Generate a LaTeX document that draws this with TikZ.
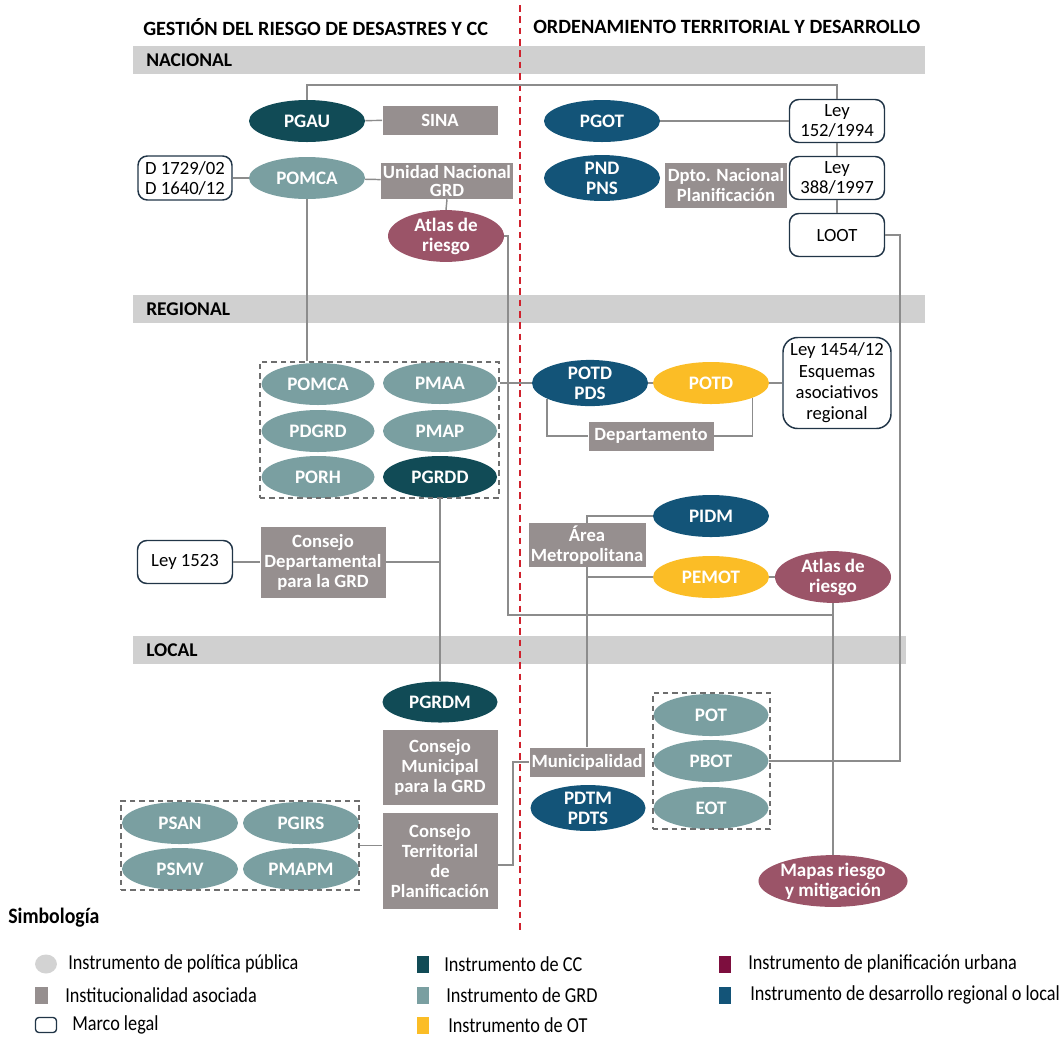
\documentclass[tikz,border=0pt]{standalone}
\usepackage{fontspec}
\setmainfont{Carlito}
\newfontfamily\legfont[FakeStretch=0.855]{Carlito}
\newfontfamily\legboldfont[FakeStretch=0.9]{Carlito}
\usetikzlibrary{shapes.geometric}
\definecolor{ccteal}{HTML}{114B56}
\definecolor{grdteal}{HTML}{7A9FA1}
\definecolor{devblue}{HTML}{135478}
\definecolor{otyellow}{HTML}{FBBD26}
\definecolor{urbrose}{HTML}{9B5468}
\definecolor{urbleg}{HTML}{7D0E3E}
\definecolor{instgray}{HTML}{968F8F}
\definecolor{bandgray}{HTML}{D0D0D0}
\definecolor{legalline}{HTML}{213547}
\definecolor{linegray}{HTML}{8C8C8C}
\definecolor{divred}{HTML}{D0212D}
\definecolor{boxdash}{HTML}{6E6E6E}
\definecolor{dotgray}{HTML}{D3D3D3}
\def\PX{0.75pt}
\tikzset{
  base/.style={font=\fontsize{14}{15}\selectfont, inner sep=0pt, align=center},
  instr/.style={base, ellipse, font=\bfseries\fontsize{14.3}{15}\selectfont, text=white,
    minimum width=116*\PX, minimum height=42*\PX},
  cc/.style={instr, fill=ccteal},
  grd/.style={instr, fill=grdteal},
  dev/.style={instr, fill=devblue},
  ot/.style={instr, fill=otyellow},
  urb/.style={instr, fill=urbrose},
  inst/.style={base, rectangle, fill=instgray, text=white, font=\bfseries\fontsize{14}{15}\selectfont},
  legal/.style={base, rectangle, draw=legalline, line width=1.1pt, rounded corners=7pt, fill=white,
    text=black},
  grp/.style={rectangle, draw=boxdash, line width=1.6pt, dash pattern=on 4pt off 3pt, inner sep=0pt},
  band/.style={rectangle, fill=bandgray, anchor=north west, inner sep=0pt, minimum height=28*\PX},
  head/.style={anchor=west, inner sep=0pt, font=\bfseries\fontsize{15.2}{16}\selectfont},
  level/.style={anchor=west, inner sep=0pt, font=\bfseries\fontsize{14.6}{15}\selectfont},
  conn/.style={draw=linegray, line width=1.1pt},
  divider/.style={draw=divred, line width=1.8pt, dash pattern=on 5pt off 3.5pt},
  legtxt/.style={anchor=west, inner sep=0pt, font=\legfont\fontsize{16}{17}\selectfont},
  legsq/.style={rectangle, inner sep=0pt, minimum width=12*\PX, minimum height=17*\PX},
}
\begin{document}
\begin{tikzpicture}[x=0.75pt, y=-0.75pt]
\useasboundingbox (0,0) rectangle (1063,1036);

% column headings and the divider between both columns
\node[head] (hleft) at (143,27) {GESTIÓN DEL RIESGO DE DESASTRES Y CC};
\node[head] (hright) at (533,27) {ORDENAMIENTO TERRITORIAL Y DESARROLLO};

% level bands
\node[band, minimum width=792*\PX] (bandN) at (133,46) {};
\node[level] (lvlN) at (146,60) {NACIONAL};
\node[band, minimum width=792*\PX] (bandR) at (133,295) {};
\node[level] (lvlR) at (146,309) {REGIONAL};
\node[band, minimum width=773*\PX] (bandL) at (133,636) {};
\node[level] (lvlL) at (146,650) {LOCAL};

\coordinate (divtop) at (520,5);
\coordinate (divbot) at (520,930);
\draw[divider] (divtop) -- (divbot);

% ---------- national level ----------
\node[cc]  (pgau)   at (307,121) {PGAU};
\node[inst, minimum width=115*\PX, minimum height=29*\PX] (sina) at (440,120) {SINA};
\node[legal, minimum width=94*\PX, minimum height=44*\PX] (dleg) at (185,178) {D 1729/02\\D 1640/12};
\node[grd] (pomcaN) at (307,178) {POMCA};
\node[inst, minimum width=132*\PX, minimum height=36*\PX, font=\bfseries\fontsize{14}{13}\selectfont] (ung) at (447,181) {Unidad Nacional\\GRD};
\node[urb, minimum height=45*\PX] (atlasN) at (446,236) {Atlas de\\riesgo};

\node[dev] (pgot) at (602,121) {PGOT};
\node[dev] (pnd)  at (602,178) {PND\\PNS};
\node[inst, minimum width=122*\PX, minimum height=45*\PX] (dnp) at (726,185) {Dpto. Nacional\\Planificación};
\node[legal, minimum width=95*\PX, minimum height=43*\PX] (ley152) at (837,121) {Ley\\152/1994};
\node[legal, minimum width=95*\PX, minimum height=43*\PX] (ley388) at (837,178) {Ley\\388/1997};
\node[legal, minimum width=95*\PX, minimum height=43*\PX] (loot) at (837,235) {LOOT};

% ---------- regional level ----------
\node[grd, minimum width=113*\PX] (pomcaR) at (318,384) {POMCA};
\node[grd, minimum width=114*\PX] (pmaa)   at (440,383) {PMAA};
\node[grd, minimum width=113*\PX] (pdgrd)  at (318,431) {PDGRD};
\node[grd, minimum width=114*\PX] (pmap)   at (440,431) {PMAP};
\node[grd, minimum width=113*\PX] (porh)   at (318,477) {PORH};
\node[cc,  minimum width=114*\PX] (pgrdd)  at (440,477) {PGRDD};
\node[grp, minimum width=239*\PX, minimum height=136*\PX] (regbox) at (379.5,430) {};

\node[legal, minimum width=95*\PX, minimum height=43*\PX] (ley1523) at (185,562) {Ley 1523};
\node[inst, minimum width=125*\PX, minimum height=71*\PX] (cdgrd) at (323,562) {Consejo\\Departamental\\para la GRD};

\node[dev] (potdpds) at (590,383) {POTD\\PDS};
\node[ot]  (potd)    at (711,383) {POTD};
\node[legal, minimum width=108*\PX, minimum height=91*\PX, font=\fontsize{14}{16}\selectfont, rounded corners=11pt] (ley1454) at (837,383) {Ley 1454/12\\Esquemas\\asociativos\\regional};
\node[inst, minimum width=125*\PX, minimum height=29*\PX] (depto) at (651,436) {Departamento};

\node[dev] (pidm) at (711,516) {PIDM};
\node[inst, minimum width=117*\PX, minimum height=44*\PX] (area) at (587,545) {Área\\Metropolitana};
\node[ot]  (pemot) at (711,577) {PEMOT};
\node[urb] (atlasR) at (833,577) {Atlas de\\riesgo};

% ---------- local level ----------
\node[cc, minimum width=115*\PX, minimum height=41*\PX] (pgrdm) at (440,702) {PGRDM};
\node[inst, minimum width=115*\PX, minimum height=75*\PX] (cmgrd) at (440,767) {Consejo\\Municipal\\para la GRD};
\node[inst, minimum width=115*\PX, minimum height=96*\PX] (ctp) at (440,861) {Consejo\\Territorial\\de\\Planificación};

\node[grd] (psan)  at (180,823) {PSAN};
\node[grd] (pgirs) at (301,823) {PGIRS};
\node[grd] (psmv)  at (180,869) {PSMV};
\node[grd] (pmapm) at (301,869) {PMAPM};
\node[grp, minimum width=238*\PX, minimum height=89*\PX] (locbox) at (240,845.5) {};

\node[inst, minimum width=115*\PX, minimum height=29*\PX] (munic) at (587,762) {Municipalidad};
\node[dev, minimum width=115*\PX, minimum height=41*\PX] (pdtm) at (588,808) {PDTM\\PDTS};

\node[grd, minimum width=115*\PX] (pot)  at (711,715) {POT};
\node[grd, minimum width=115*\PX] (pbot) at (711,761) {PBOT};
\node[grd, minimum width=115*\PX] (eot)  at (711,808) {EOT};
\node[grp, minimum width=117*\PX, minimum height=136*\PX] (potbox) at (711.5,761) {};

\node[urb, minimum width=128*\PX, minimum height=49*\PX] (mapas) at (833,881) {Mapas riesgo\\y mitigación};

% ---------- connectors ----------
\coordinate (toprail) at (0,85);
\draw[conn] (pgau.north) -- (pgau.north |- toprail) -| (ley152.north);
\draw[conn] (pgau) -- (sina);
\draw[conn] (dleg) -- (pomcaN);
\draw[conn] (pomcaN) -- (ung);
\draw[conn] (ung.south) -- (atlasN.north);
\draw[conn] (pomcaN.south) -- (pomcaN.south |- regbox.north);
\draw[conn] (pgot) -- (ley152);
\draw[conn] (ley152) -- (ley388);
\draw[conn] (ley388) -- (loot);

\coordinate (riskrail) at (508,615);
\draw[conn] (atlasN.east) -| (riskrail) -| (atlasR.south);
\draw[conn] (atlasR.south) -- (mapas.north);
\coordinate (lootrail) at (900,761);
\draw[conn] (loot.east) -| (lootrail) -- (pbot.east);

\draw[conn] (regbox.east |- pmaa) -- (potdpds.west);
\draw[conn] (potdpds) -- (potd);
\draw[conn] (potd) -- (ley1454);
\draw[conn] (depto.west) -| (potdpds.200);
\draw[conn] (depto.east) -| (potd.340);

\draw[conn] (area.north) |- (pidm.west);
\draw[conn] (area.south) -- (munic.north);
\draw[conn] (area.south |- pemot) -- (pemot.west);
\draw[conn] (pemot) -- (atlasR);

\draw[conn] (pgrdd.south) -- (pgrdm.north);
\draw[conn] (cdgrd.east) -- (cdgrd.east -| pgrdd.south);
\draw[conn] (ley1523) -- (cdgrd);

\draw[conn] (locbox.east) -- (locbox.east -| ctp.west);
\coordinate (ctprail) at (513,865);
\draw[conn] (ctp.east |- ctprail) -- (ctprail) |- (munic.west);

% ---------- legend ----------
\node[anchor=west, inner sep=0pt, font=\legboldfont\bfseries\fontsize{16.5}{17}\selectfont] (symb) at (8,918) {Simbología};

\node[circle, fill=dotgray, minimum size=19*\PX, inner sep=0pt, xscale=1.15] (lg1) at (46,964) {};
\node[legtxt] (lt1) at (68,964) {Instrumento de política pública};
\node[legsq, fill=instgray, minimum width=13*\PX] (lg2) at (41,995) {};
\node[legtxt] (lt2) at (65,995) {Institucionalidad asociada};
\node[rectangle, draw=legalline, line width=1pt, rounded corners=2.5pt, minimum width=21*\PX, minimum height=15*\PX, inner sep=0pt] (lg3) at (46,1025) {};
\node[legtxt] (lt3) at (72,1025) {Marco legal};

\node[legsq, fill=ccteal] (lg4) at (423,964) {};
\node[legtxt] (lt4) at (444,964) {Instrumento de CC};
\node[legsq, fill=grdteal] (lg5) at (423,995) {};
\node[legtxt] (lt5) at (446,995) {Instrumento de GRD};
\node[legsq, fill=otyellow] (lg6) at (423,1025) {};
\node[legtxt] (lt6) at (448,1025) {Instrumento de OT};

\node[legsq, fill=urbleg] (lg7) at (725,964) {};
\node[legtxt] (lt7) at (748,964) {Instrumento de planificación urbana};
\node[legsq, fill=devblue] (lg8) at (725,995) {};
\node[legtxt] (lt8) at (750,995) {Instrumento de desarrollo regional o local};
\end{tikzpicture}
\end{document}
